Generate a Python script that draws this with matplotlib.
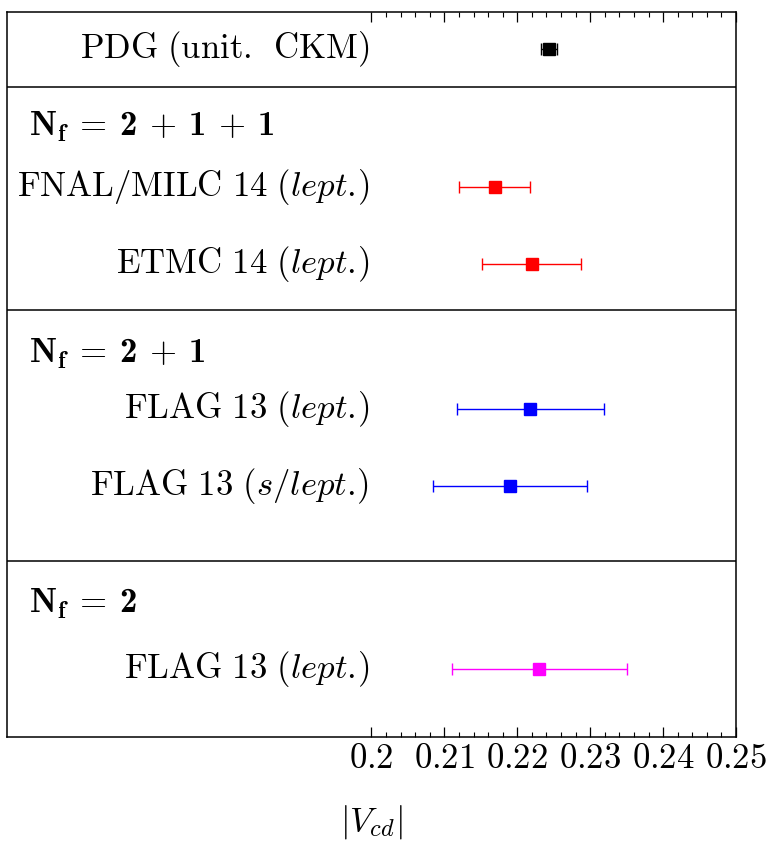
import matplotlib
matplotlib.use('Agg')
import matplotlib.pyplot as plt
import numpy as np

plt.rcParams['mathtext.fontset'] = 'cm'
# bold Computer Modern for the N_f headers
plt.rcParams['mathtext.rm'] = 'cmr10'
plt.rcParams['mathtext.bf'] = 'cmb10'

# |V_cd| results, rows counted from the top of the panel
labels = [r'$\mathrm{PDG\ (unit.\ \,CKM)}$',
          r'$\mathrm{FNAL/MILC\ 14}\ (\mathit{lept.}\!)$',
          r'$\mathrm{ETMC\ 14}\ (\mathit{lept.}\!)$',
          r'$\mathrm{FLAG\ 13}\ (\mathit{lept.}\!)$',
          r'$\mathrm{FLAG\ 13}\ (\mathit{s/lept.}\!)$',
          r'$\mathrm{FLAG\ 13}\ (\mathit{lept.}\!)$']
vcd = [0.2244, 0.2169, 0.2220, 0.2218, 0.2190, 0.2230]
err = [0.0011, 0.0049, 0.0068, 0.0101, 0.0105, 0.0120]
colors = ['black', 'red', 'red', 'blue', 'blue', 'magenta']
rows = [0.48, 2.27, 3.27, 5.16, 6.16, 8.53]

headers = [r'$\mathbf{N_f}\,=\,\mathbf{2}\,+\,\mathbf{1}\,+\,\mathbf{1}$',
           r'$\mathbf{N_f}\,=\,\mathbf{2}\,+\,\mathbf{1}$',
           r'$\mathbf{N_f}\,=\,\mathbf{2}$']
header_rows = [1.49, 4.44, 7.69]
separators = [0.97, 3.87, 7.13]

xticks = [0.20, 0.21, 0.22, 0.23, 0.24, 0.25]
xticklabels = [r'$0.2$', r'$0.21$', r'$0.22$', r'$0.23$', r'$0.24$', r'$0.25$']

fig = plt.figure(figsize=(7.84, 8.5), dpi=100)
ax = fig.add_axes([0.0089, 0.1329, 0.9299, 0.853])

for x, e, y, c, lab in zip(vcd, err, rows, colors, labels):
    ax.errorbar(x, y, xerr=e, fmt='s', color=c, ms=9, lw=1.0,
                capsize=4, capthick=1.0)
    ax.text(0.1997, y, lab, ha='right', va='center', fontsize=25)

for y, h in zip(header_rows, headers):
    ax.text(0.153, y, h, ha='left', va='center', fontsize=25,
            math_fontfamily='custom')

for y in separators:
    ax.axhline(y, color='black', lw=1.1)

ax.set_xlim(0.15, 0.25)
ax.set_ylim(9.42, 0)
ax.set_yticks([])
ax.set_xticks(xticks)
ax.set_xticklabels(xticklabels, fontsize=25)
ax.set_xticks(np.arange(0.202, 0.2499, 0.002), minor=True)
ax.tick_params(axis='x', which='both', direction='in', top=True, bottom=True)
ax.tick_params(axis='x', which='major', length=7, width=0.9, pad=3)
ax.tick_params(axis='x', which='minor', length=3.5, width=0.8)
for s in ax.spines.values():
    s.set_linewidth(1.1)

ax.set_xlabel(r'$|V_{cd}|$', fontsize=25, labelpad=20)

fig.savefig('out.png', dpi=100)
